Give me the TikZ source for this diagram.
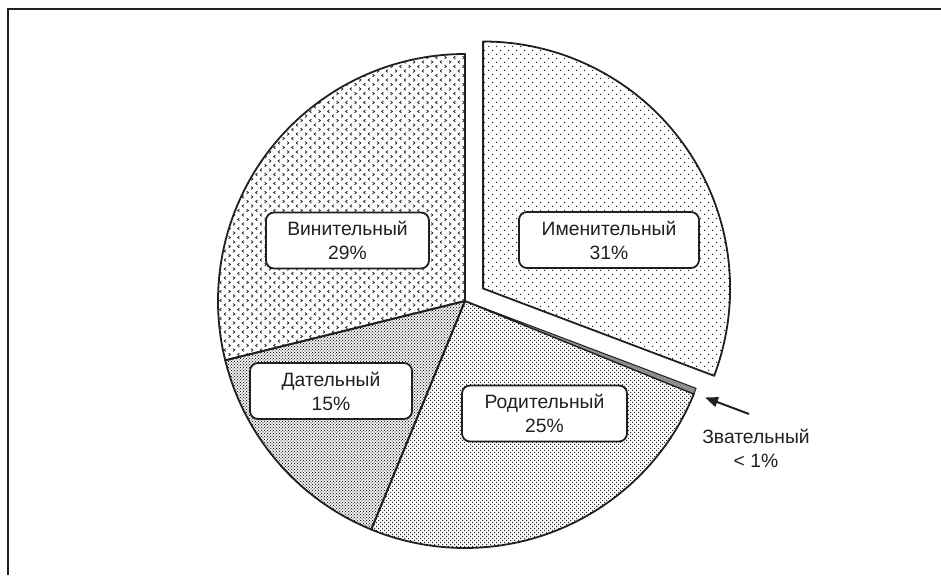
\documentclass[tikz,border=0pt]{standalone}
\usepackage{fontspec}
\setmainfont{Liberation Sans}
\usetikzlibrary{patterns,arrows.meta}
\definecolor{ink}{HTML}{231F20}
\definecolor{zgray}{HTML}{8E8E90}

\pgfdeclarepatternformonly{sparsedots}{\pgfpoint{-1pt}{-1pt}}{\pgfpoint{6pt}{6pt}}{\pgfpoint{8pt}{8pt}}{%
  \pgfpathrectangle{\pgfpoint{0pt}{0pt}}{\pgfpoint{1.1pt}{1.1pt}}%
  \pgfpathrectangle{\pgfpoint{4pt}{4pt}}{\pgfpoint{1.1pt}{1.1pt}}%
  \pgfusepath{fill}}
\pgfdeclarepatternformonly{meddots}{\pgfpoint{-1pt}{-1pt}}{\pgfpoint{4pt}{4pt}}{\pgfpoint{4pt}{4pt}}{%
  \pgfpathrectangle{\pgfpoint{0pt}{0pt}}{\pgfpoint{1.1pt}{1.1pt}}%
  \pgfpathrectangle{\pgfpoint{2pt}{2pt}}{\pgfpoint{1.1pt}{1.1pt}}%
  \pgfusepath{fill}}
\pgfdeclarepatternformonly{densedots}{\pgfpoint{-1pt}{-1pt}}{\pgfpoint{3pt}{3pt}}{\pgfpoint{3pt}{3pt}}{%
  \pgfpathrectangle{\pgfpoint{0pt}{0pt}}{\pgfpoint{1.2pt}{1.2pt}}%
  \pgfpathrectangle{\pgfpoint{1.5pt}{1.5pt}}{\pgfpoint{1.2pt}{1.2pt}}%
  \pgfusepath{fill}}
\pgfdeclarepatternformonly{chevrons}{\pgfpoint{-2pt}{-2pt}}{\pgfpoint{16pt}{7pt}}{\pgfpoint{18pt}{9pt}}{%
  \pgfsetlinewidth{0.75pt}%
  \pgfpathmoveto{\pgfpoint{-1pt}{1.4pt}}\pgfpathlineto{\pgfpoint{1pt}{0pt}}\pgfpathlineto{\pgfpoint{-1pt}{-1.4pt}}%
  \pgfpathmoveto{\pgfpoint{10pt}{1.4pt}}\pgfpathlineto{\pgfpoint{8pt}{0pt}}\pgfpathlineto{\pgfpoint{10pt}{-1.4pt}}%
  \pgfpathmoveto{\pgfpoint{5.5pt}{5.9pt}}\pgfpathlineto{\pgfpoint{3.5pt}{4.5pt}}\pgfpathlineto{\pgfpoint{5.5pt}{3.1pt}}%
  \pgfpathmoveto{\pgfpoint{12.5pt}{5.9pt}}\pgfpathlineto{\pgfpoint{14.5pt}{4.5pt}}\pgfpathlineto{\pgfpoint{12.5pt}{3.1pt}}%
  \pgfusepath{stroke}}

\begin{document}
\begin{tikzpicture}[x=1pt,y=1pt,
  slice/.style={draw=ink, line width=1.8pt, line join=round},
  lab/.style={draw=ink, fill=white, line width=1.8pt, rounded corners=8pt,
    minimum width=163pt, minimum height=56pt, align=center, inner sep=0pt,
    text=ink, font=\fontsize{19.3}{24}\selectfont},
  note/.style={align=center, text=ink, font=\fontsize{19.3}{24.5}\selectfont},
  pointer/.style={draw=ink, line width=2pt, -{Triangle[length=13pt,width=10pt]}}]
\useasboundingbox (0,0) rectangle (941,575);
\draw[line width=2pt, ink] (8.3,0) |- (941,565.7);
\coordinate (C) at (465,274);
\coordinate (E) at (483.1,286.5);
\def\R{247}
% Imenitelny (exploded)
\path[slice, pattern=sparsedots, pattern color=ink] (E) -- ++(90:\R) arc[start angle=90,end angle=-20.7,radius=\R] -- cycle;
% Roditelny
\path[slice, pattern=meddots, pattern color=ink] (C) -- ++(-22.1:\R) arc[start angle=-22.1,end angle=-112.3,radius=\R] -- cycle;
% Datelny
\path[slice, pattern=densedots, pattern color=ink] (C) -- ++(-112.3:\R) arc[start angle=-112.3,end angle=-166.1,radius=\R] -- cycle;
% Vinitelny
\path[slice, pattern=chevrons, pattern color=ink] (C) -- ++(-166.1:\R) arc[start angle=-166.1,end angle=-270,radius=\R] -- cycle;
% Zvatelny
\path[slice, fill=zgray, line width=1pt] (C) -- ++(-20.7:\R) arc[start angle=-20.7,end angle=-22.1,radius=\R] -- cycle;

\node[lab, minimum width=180pt] (imen) at (609,335) {Именительный\\31\%};
\node[lab] (vin) at (347.5,334.5) {Винительный\\29\%};
\node[lab, minimum width=162pt] (dat) at (331,184) {Дательный\\15\%};
\node[lab, minimum width=165pt] (rod) at (544.5,161.5) {Родительный\\25\%};
\node[note] (zvat) at (756,126.5) {Звательный\\< 1\%};
\coordinate (ztail) at (749,161);
\coordinate (ztip) at (705,177.5);
\draw[pointer] (ztail) -- (ztip);
\end{tikzpicture}
\end{document}
